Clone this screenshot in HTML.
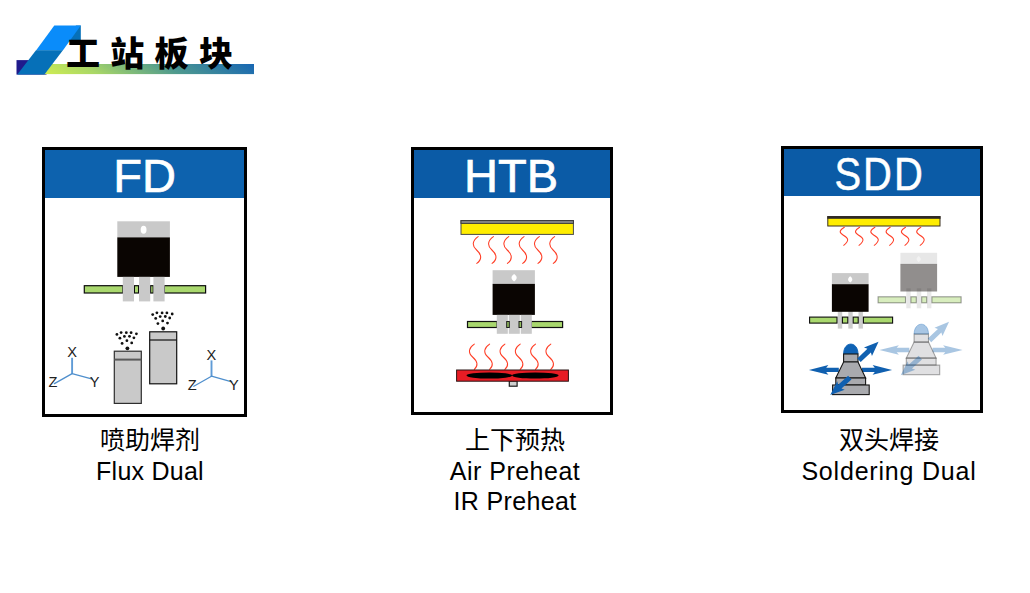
<!DOCTYPE html>
<html lang="zh-CN">
<head>
<meta charset="utf-8">
<title>工站板块</title>
<style>
  html, body { margin: 0; padding: 0; background: #ffffff; }
  body {
    position: relative;
    width: 1030px; height: 593px; overflow: hidden;
    font-family: "Liberation Sans", "Noto Sans CJK SC", sans-serif;
    color: #000;
  }
  .title { position: absolute; left: 0; top: 0; width: 300px; height: 90px; }
  .title svg { position: absolute; left: 0; top: 0; }
  .title h1 {
    position: absolute; left: 66px; top: 28.8px; margin: 0;
    font-family: "Liberation Sans", "Noto Sans CJK SC", sans-serif;
    font-weight: 900; font-size: 34px; line-height: 50px; letter-spacing: 10.3px;
    white-space: nowrap; color: #000;
  }
  .card {
    position: absolute; box-sizing: border-box;
    border: 3px solid #000; background: #fff; overflow: hidden;
  }
  .card .hd {
    position: absolute; left: 0; top: 0; right: 0;
    color: #fff; text-align: center; white-space: nowrap;
    font-family: "Liberation Sans", sans-serif; font-size: 47px;
    -webkit-text-stroke: 0.7px #fff;
  }
  .card svg { position: absolute; left: 0; top: 0; }
  #c1 { left: 42px; top: 147px; width: 205px; height: 270px; }
  #c1 .hd { height: 48px; line-height: 52px; background: #0d62ae; }
  #c2 { left: 411px; top: 147px; width: 202px; height: 268px; }
  #c2 .hd { height: 48px; line-height: 52px; background: #0b5ba6; padding-right: 2px; }
  #c3 { left: 781px; top: 146px; width: 202px; height: 267px; }
  #c3 .hd { height: 47px; line-height: 50px; background: #0b5ba6; font-size: 47px; -webkit-text-stroke: 0.5px #fff; }
  #c3 .hd span { display: inline-block; transform: translate(-2.6px,-0.3px) scaleX(0.85); letter-spacing: 2.4px; }
  .cap {
    position: absolute; width: 260px; text-align: center; white-space: nowrap;
    font-family: "Liberation Sans", "Noto Sans CJK SC", sans-serif;
    font-size: 25px; line-height: 30.2px; color: #000;
  }
  #cap1 { left: 20px; top: 425.3px; }
  #cap2 { left: 385px; top: 425.3px; }
  #cap3 { left: 759px; top: 425.3px; }
</style>
</head>
<body>

<div class="title">
  <svg width="300" height="90" viewBox="0 0 300 90">
    <defs>
      <linearGradient id="bar" gradientUnits="userSpaceOnUse" x1="40" y1="74" x2="94.7" y2="-24.5">
        <stop offset="0" stop-color="#d2ee50"/>
        <stop offset="0.25" stop-color="#a9d767"/>
        <stop offset="0.6" stop-color="#4f9a8e"/>
        <stop offset="1" stop-color="#1766b4"/>
      </linearGradient>
    </defs>
    <rect x="16.5" y="60.1" width="30" height="14.5" fill="#1f1a8c"/>
    <rect x="40" y="64" width="214" height="10.1" fill="url(#bar)"/>
    <polygon points="80.8,25.4 80.8,41.5 66,41.5 76,25.4" fill="#0670b8"/>
    <polygon points="54.3,25.4 80.8,25.4 62.8,50.4 36,50.4" fill="#0a8cfa"/>
    <polygon points="36,50.2 62.9,50.2 44.4,74.6 17.3,74.6" fill="#0670b8"/>
  </svg>
  <h1>工站板块</h1>
</div>

<!-- ============ FD ============ -->
<div class="card" id="c1">
  <div class="hd">FD</div>
  <svg width="199" height="264" viewBox="45 150 199 264">
    <!-- transistor -->
    <rect x="117.3" y="221.3" width="52.6" height="16.5" fill="#c9c9c9"/>
    <ellipse cx="143.6" cy="229.7" rx="2.9" ry="4" fill="#fff"/>
    <rect x="117.3" y="237.4" width="52.6" height="39.5" fill="#0a0502"/>
    <!-- pcb -->
    <g fill="#a9d86e" stroke="#0c0c0c" stroke-width="1.2">
      <rect x="84.3" y="285.7" width="38.6" height="7.3"/>
      <rect x="134.4" y="285.7" width="4.2" height="7.3"/>
      <rect x="150.6" y="285.7" width="2.6" height="7.3"/>
      <rect x="164.4" y="285.7" width="41.2" height="7.3"/>
    </g>
    <!-- leads -->
    <rect x="122.8" y="276.9" width="11.2" height="24.5" fill="#c9c9c9"/>
    <rect x="139" y="276.9" width="11.2" height="24.5" fill="#c9c9c9"/>
    <rect x="153.4" y="276.9" width="11.2" height="24.5" fill="#c9c9c9"/>
    <!-- cans -->
    <rect x="114.3" y="351.2" width="27" height="52.2" fill="#c9c9c9" stroke="#2e2e2e" stroke-width="1.2"/>
    <rect x="149.7" y="331.8" width="27" height="52" fill="#c9c9c9" stroke="#111" stroke-width="1.2"/>
    <line x1="114.3" y1="359.6" x2="141.3" y2="359.6" stroke="#5a5a5a" stroke-width="2"/>
    <line x1="149.7" y1="340" x2="176.7" y2="340" stroke="#111" stroke-width="1.2"/>
    <!-- spray -->
    <g id="spray" fill="#111">
      <circle cx="127.4" cy="348.3" r="1.9"/>
      <circle cx="122.1" cy="343.4" r="1.4"/><circle cx="131.7" cy="342.9" r="1.4"/><circle cx="126.9" cy="340.7" r="1.4"/><circle cx="119.9" cy="338.2" r="1.4"/><circle cx="124.4" cy="336.4" r="1.4"/><circle cx="129.5" cy="336.3" r="1.4"/><circle cx="133.9" cy="337.8" r="1.4"/><circle cx="116.9" cy="334.4" r="1.4"/><circle cx="121.1" cy="332.6" r="1.4"/><circle cx="126.3" cy="332.7" r="1.4"/><circle cx="131.1" cy="332.7" r="1.4"/><circle cx="136.4" cy="333.8" r="1.4"/>
    </g>
    <use href="#spray" x="35.8" y="-19.8"/>
    <!-- axes -->
    <g id="axis">
      <g stroke="#4f8fcd" stroke-width="1.3" fill="none" stroke-linecap="round">
        <line x1="72.1" y1="373.6" x2="72.1" y2="357.8" stroke="#5f9bd6" stroke-width="1.9" stroke-linecap="butt"/>
        <line x1="72.1" y1="373.6" x2="54.4" y2="383.6"/>
        <line x1="72.1" y1="373.6" x2="92.4" y2="379.2"/>
      </g>
      <g font-family="'Liberation Sans', sans-serif" font-size="14.6" fill="#222" text-anchor="middle">
        <text x="72" y="357.2">X</text>
        <text x="52.9" y="387.1">Z</text>
        <text x="94.6" y="387.1">Y</text>
      </g>
    </g>
    <use href="#axis" x="139.4" y="2.6"/>
  </svg>
</div>
<div class="cap" id="cap1">喷助焊剂<br><span style="letter-spacing:0.25px">Flux Dual</span></div>

<!-- ============ HTB ============ -->
<div class="card" id="c2">
  <div class="hd">HTB</div>
  <svg width="196" height="262" viewBox="414 150 196 262">
    <!-- IR heater -->
    <rect x="461" y="220.6" width="112.4" height="13.8" fill="#ffed00" stroke="#4a4a4a" stroke-width="1"/>
    <rect x="461" y="220.6" width="112.4" height="2.8" fill="#8a8a8a" stroke="#3a3a3a" stroke-width="1"/>
    <g id="w1" fill="none" stroke="#ff3d25" stroke-width="1.05" stroke-linecap="round">
      <path id="w1p" d="M478.1,236.6 C472.5,240.5 471.5,245.5 476.6,250 C481.8,254.6 482.2,259.4 476.8,263.4"/>
      <use href="#w1p" x="15.3"/><use href="#w1p" x="30.6"/><use href="#w1p" x="45.9"/><use href="#w1p" x="61.2"/><use href="#w1p" x="76.5"/>
    </g>
    <!-- transistor -->
    <rect x="492.6" y="270.2" width="42.3" height="14" fill="#c9c9c9"/>
    <path fill="#fff" d="M514.1,274 C516,275.5 516.7,276.5 516.7,277.7 C516.7,278.9 516,279.9 514.1,281.4 C512.2,279.9 511.5,278.9 511.5,277.7 C511.5,276.5 512.2,275.5 514.1,274 Z"/>
    <rect x="492.6" y="283.9" width="42.3" height="31" fill="#0a0502"/>
    <!-- pcb -->
    <g fill="#a9d86e" stroke="#111" stroke-width="1.2">
      <rect x="467.5" y="321.5" width="29.6" height="6"/>
      <rect x="531.4" y="321.5" width="31.2" height="6"/>
    </g>
    <!-- leads -->
    <rect x="496.8" y="314.9" width="11" height="18.9" fill="#c9c9c9"/>
    <rect x="508.8" y="314.9" width="11" height="18.9" fill="#c9c9c9"/>
    <rect x="520.8" y="314.9" width="11" height="18.9" fill="#c9c9c9"/>
    <rect x="506.7" y="321.5" width="2.6" height="6" fill="#93bd5f" stroke="#1c1c1c" stroke-width="1"/>
    <rect x="519" y="321.5" width="2.6" height="6" fill="#93bd5f" stroke="#1c1c1c" stroke-width="1"/>
    <!-- hot-air -->
    <g fill="none" stroke="#ff3d25" stroke-width="1.05" stroke-linecap="round">
      <path id="w2p" d="M474.3,344.1 C468.8,347.8 467.6,352.6 472.6,357 C477.8,361.6 478.4,365.6 474.3,369.4"/>
      <use href="#w2p" x="15.3"/><use href="#w2p" x="30.6"/><use href="#w2p" x="45.9"/><use href="#w2p" x="61.2"/><use href="#w2p" x="76.5"/>
    </g>
    <rect x="509.3" y="381" width="7.8" height="5.2" fill="#cfcfcf" stroke="#1c1c1c" stroke-width="1.2"/>
    <rect x="456.6" y="370" width="111.8" height="11.2" fill="#e81c24" stroke="#2a1414" stroke-width="1"/>
    <ellipse cx="489.3" cy="375.5" rx="22.8" ry="3.1" fill="#000"/>
    <ellipse cx="535.3" cy="375.5" rx="23.3" ry="3.1" fill="#000"/>
  </svg>
</div>
<div class="cap" id="cap2">上下预热<br><span style="letter-spacing:0.5px">Air Preheat</span><br><span style="letter-spacing:0.35px">IR Preheat</span></div>

<!-- ============ SDD ============ -->
<div class="card" id="c3">
  <div class="hd"><span>SDD</span></div>
  <svg width="196" height="261" viewBox="784 149 196 261">
    <!-- IR heater -->
    <rect x="827.8" y="216.6" width="112.2" height="9.4" fill="#ffed00" stroke="#3a3020" stroke-width="1"/>
    <rect x="827.3" y="216.1" width="113.2" height="2.7" fill="#2e2a26"/>
    <g fill="none" stroke="#ff3d25" stroke-width="1.05" stroke-linecap="round">
      <path id="w3p" d="M844.3,227.2 C839.6,230 838.6,232.4 843,235 C848.6,238.2 849.6,240.6 843.7,245.3"/>
      <use href="#w3p" x="15.3"/><use href="#w3p" x="30.6"/><use href="#w3p" x="45.9"/><use href="#w3p" x="61.2"/><use href="#w3p" x="76.5"/>
    </g>
    <defs>
      <g id="tr3">
        <rect x="837.8" y="308.6" width="4.4" height="20" fill="#cdcdcd"/>
        <rect x="848.3" y="308.6" width="4.4" height="20" fill="#cdcdcd"/>
        <rect x="858.5" y="308.6" width="4.4" height="20" fill="#cdcdcd"/>
        <rect x="831.9" y="273.1" width="36.7" height="11.4" fill="#c9c9c9"/>
        <path fill="#fff" d="M850.2,276.2 C851.7,277.4 852.3,278.3 852.3,279.4 C852.3,280.5 851.7,281.4 850.2,282.6 C848.7,281.4 848.1,280.5 848.1,279.4 C848.1,278.3 848.7,277.4 850.2,276.2 Z"/>
        <rect x="831.9" y="284.2" width="36.7" height="27.6" fill="#0a0502"/>
        <g fill="#a9d86e" stroke="#0c0c0c" stroke-width="1.1">
          <rect x="809.6" y="317.1" width="27.4" height="6"/>
          <rect x="842.4" y="317.1" width="5.4" height="6"/>
          <rect x="853.2" y="317.1" width="5" height="6"/>
          <rect x="863.4" y="317.1" width="29.2" height="6"/>
        </g>
      </g>
      <g id="noz">
        <g fill="#1060b0">
          <path d="M838.8,367.7 L826.2,367.7 L828.4,365.1 L808.9,369.9 L828.4,374.7 L826.2,372.1 L838.8,372.1 Z"/>
          <path d="M862,367.7 L874.8,367.7 L872.6,365.1 L892.1,369.9 L872.6,374.7 L874.8,372.1 L862,372.1 Z"/>
        </g>
        <path d="M843.6,354 C843.6,340.8 858,340.8 858,354 Z" fill="#0f62b4" stroke="#0f62b4" stroke-width="0.9"/>
        <g fill="#a9aaae" stroke="#151515" stroke-width="1.1">
          <rect x="843.6" y="354" width="14.4" height="8"/>
          <polygon points="843.6,362 858,362 865.6,378 835.8,378"/>
          <rect x="835.8" y="378" width="29.8" height="7"/>
          <rect x="832.6" y="385" width="36.6" height="9.6"/>
        </g>
        <g fill="#1060b0">
          <path transform="translate(859,360.3) rotate(-43.6)" d="M0,-2.5 L14,-2.5 L12.4,-5.8 L27,0 L12.4,5.8 L14,2.5 L0,2.5 Z"/>
          <path transform="translate(849.8,377.6) rotate(138.3)" d="M0,-2.5 L13.4,-2.5 L11.8,-5.6 L26.2,0 L11.8,5.6 L13.4,2.5 L0,2.5 Z"/>
        </g>
      </g>
    </defs>
    <!-- second head (inactive, shown faded) -->
    <use href="#tr3" x="68.5" y="-20.3" fill-opacity="0.45" stroke-opacity="0.4"/>
    <use href="#noz" x="70.5" y="-19.9" fill-opacity="0.36" stroke-opacity="0.36"/>
    <!-- first head (active) -->
    <use href="#tr3"/>
    <use href="#noz"/>
  </svg>
</div>
<div class="cap" id="cap3">双头焊接<br><span style="letter-spacing:0.8px">Soldering Dual</span></div>

</body>
</html>
